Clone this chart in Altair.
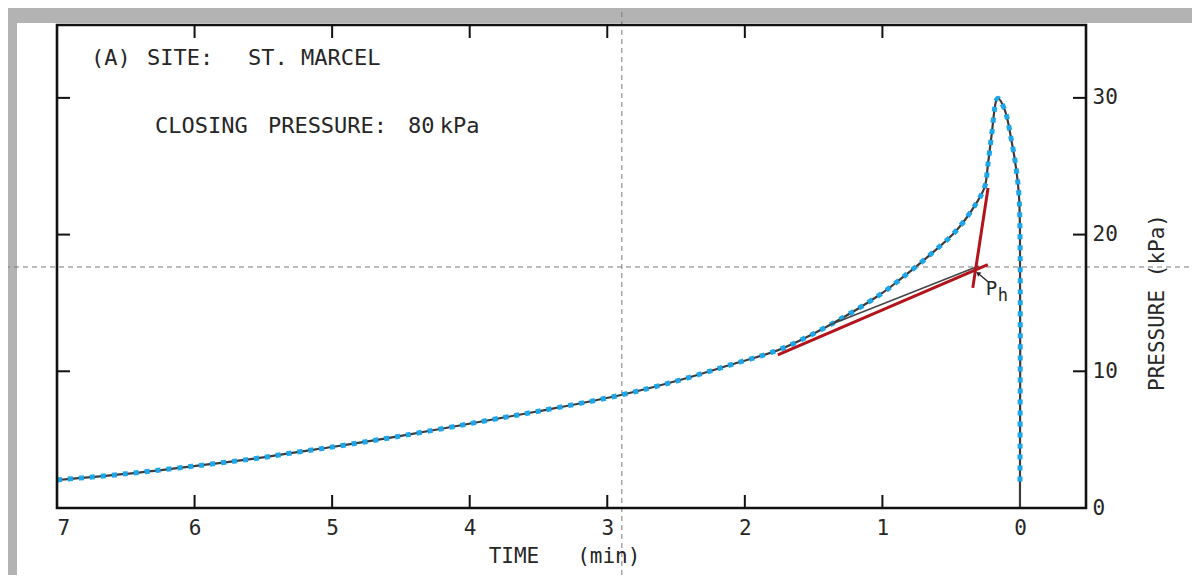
import altair as alt
import pandas as pd

# ---- data ----
curve_t = [7.0, 6.5, 6.0, 5.5, 5.234, 5.0, 4.5, 3.853, 3.5, 2.908, 2.472, 2.109, 1.746, 1.382,
           1.019, 0.874, 0.656, 0.462, 0.317, 0.256, 0.232, 0.207, 0.171, 0.159, 0.11, 0.062,
           0.026, 0.007, 0.0, 0.0]
curve_p = [2.05, 2.5, 3.07, 3.7, 4.12, 4.46, 5.27, 6.44, 7.08, 8.25, 9.36, 10.46, 11.6, 13.39,
           15.6, 16.7, 18.5, 20.3, 22.3, 23.5, 25.2, 27.2, 29.85, 29.97, 29.1, 26.9,
           24.7, 22.8, 20.3, 1.8]

# tangent construction lines (red) and faint original pencil line
red_seg = ["a", "a", "b", "b"]
red_t = [1.76, 0.234, 0.232, 0.343]
red_p = [11.2, 17.8, 23.4, 16.1]
pencil_t = [1.38, 0.30]
pencil_p = [13.4, 17.7]

# Ph arrow (tail, tip)
arrow_t = [0.232, 0.305]
arrow_p = [16.55, 17.17]

# crosshair of the digitiser
cross_t = [2.894]
cross_p = [17.63]

x_ticks = [7, 6, 5, 4, 3, 2, 1, 0]
y_ticks = [0, 10, 20, 30]
inner_x_ticks = [6, 5, 4, 3, 2, 1]
inner_y_ticks = [10, 20, 30]

labels = ["(A)", "SITE:", "ST. MARCEL", "CLOSING", "PRESSURE:", "80", "kPa", "P", "h"]
label_t = [6.753, 6.346, 5.612, 6.288, 5.467, 4.449, 4.217, 0.249, 0.161]
label_p = [32.92, 32.92, 32.92, 27.94, 27.94, 27.94, 27.94, 16.02, 15.51]
label_size = [22, 22, 22, 22, 22, 22, 22, 19, 17]

W, H = 1029, 483
FONT = "DejaVu Sans Mono"
INK = "#262626"

xs = alt.Scale(domain=[7, -0.48], nice=False, zero=False)
ys = alt.Scale(domain=[0, 35.33], nice=False, zero=False)

X_AX = alt.Axis(values=x_ticks, format="d", ticks=False, domain=False, grid=False,
                labelFontSize=21, labelFont=FONT, labelColor=INK, labelPadding=9,
                title="TIME\u00a0\u00a0\u00a0(min)", titleFont=FONT,
                titleFontSize=21, titleFontWeight="normal", titleColor=INK,
                titlePadding=7, titleX=507, zindex=2)
Y_AX = alt.Axis(orient="right", values=y_ticks, format="d", ticks=False,
                domain=False, grid=False, labelFontSize=21, labelFont=FONT,
                labelColor=INK, labelPadding=6,
                title="PRESSURE\u00a0(kPa)", titleFont=FONT,
                titleFontSize=21, titleFontWeight="normal", titleColor=INK,
                titleAngle=270, titleX=71, titleY=277, titleBaseline="middle",
                zindex=2)


def X(field="t"):
    return alt.X(f"{field}:Q", scale=xs, axis=X_AX)


def Y(field="p"):
    return alt.Y(f"{field}:Q", scale=ys, axis=Y_AX)


one = pd.DataFrame({"k": [0]})

shadow = alt.Chart(one).mark_rect(fill="#8a8a8a").encode(
    x=alt.value(-37), x2=alt.value(1145), y=alt.value(1), y2=alt.value(600))
paper = alt.Chart(one).mark_rect(fill="white").encode(
    x=alt.value(-40), x2=alt.value(1138), y=alt.value(-2), y2=alt.value(553))
frame = alt.Chart(one).mark_rect(fill=None, stroke="#111", strokeWidth=2.6).encode(
    x=alt.value(0), x2=alt.value(W), y=alt.value(0), y2=alt.value(H))

cross_v = alt.Chart(pd.DataFrame({"t": cross_t})).mark_rule(
    color="#7a7a7a", strokeDash=[5, 4], strokeWidth=1).encode(
    x=X(), y=alt.value(-40), y2=alt.value(600))
cross_h = alt.Chart(pd.DataFrame({"p": cross_p})).mark_rule(
    color="#7a7a7a", strokeDash=[5, 4], strokeWidth=1).encode(
    y=Y(), x=alt.value(-70), x2=alt.value(1200))

xt = pd.DataFrame({"t": inner_x_ticks})
yt = pd.DataFrame({"p": inner_y_ticks})
tick_b = alt.Chart(xt).mark_rule(color="#111", strokeWidth=2).encode(
    x=X(), y=alt.value(H), y2=alt.value(H - 13))
tick_t = alt.Chart(xt).mark_rule(color="#111", strokeWidth=2).encode(
    x=X(), y=alt.value(0), y2=alt.value(13))
tick_r = alt.Chart(yt).mark_rule(color="#111", strokeWidth=2).encode(
    y=Y(), x=alt.value(W), x2=alt.value(W - 13))
tick_l = alt.Chart(yt).mark_rule(color="#111", strokeWidth=2).encode(
    y=Y(), x=alt.value(0), x2=alt.value(13))

curve_df = pd.DataFrame({"t": curve_t, "p": curve_p, "i": range(len(curve_t))})
black_df = pd.DataFrame({"t": curve_t + [0.0], "p": curve_p + [0.0],
                         "i": range(len(curve_t) + 1)})

black = alt.Chart(black_df).mark_line(color="#3c3c3c", strokeWidth=2.2,
                                      interpolate="catmull-rom").encode(
    x=X(), y=Y(), order="i:Q")

dotted = alt.Chart(curve_df).mark_line(color="#1aa7ec", strokeWidth=5, strokeDash=[5, 6],
                                       strokeCap="butt", interpolate="catmull-rom").encode(
    x=X(), y=Y(), order="i:Q")

pencil = alt.Chart(pd.DataFrame({"t": pencil_t, "p": pencil_p})).mark_line(
    color="#444", strokeWidth=1.5).encode(x=X(), y=Y())

red = alt.Chart(pd.DataFrame({"s": red_seg, "t": red_t, "p": red_p})).mark_line(
    color="#b3141b", strokeWidth=3).encode(x=X(), y=Y(), detail="s:N")

arrow = alt.Chart(pd.DataFrame({"t": arrow_t, "p": arrow_p})).mark_line(
    color="#222", strokeWidth=1.3).encode(x=X(), y=Y())
arrow_head = alt.Chart(pd.DataFrame({"t": arrow_t[1:], "p": arrow_p[1:]})).mark_point(
    shape="triangle-up", filled=True, color="#222", size=26, angle=308, opacity=1).encode(
    x=X(), y=Y())

text_df = pd.DataFrame({"label": labels, "t": label_t, "p": label_p, "s": label_size})
texts = alt.Chart(text_df).mark_text(align="left", baseline="middle", font=FONT,
                                     color=INK).encode(
    x=X(), y=Y(), text="label:N", size=alt.Size("s:Q", scale=None, legend=None))

chart = alt.layer(
    shadow, paper, black, cross_v, cross_h, dotted, pencil, red, arrow, arrow_head,
    texts, frame, tick_b, tick_t, tick_r, tick_l
).properties(
    width=W, height=H,
    autosize=alt.AutoSizeParams(type="none"),
    padding={"left": 49, "top": 17, "right": 106, "bottom": 67},
    background="#b3b3b3",
).configure_view(strokeWidth=0)

chart.save("out.html", embed_options={"renderer": "svg", "actions": False})
